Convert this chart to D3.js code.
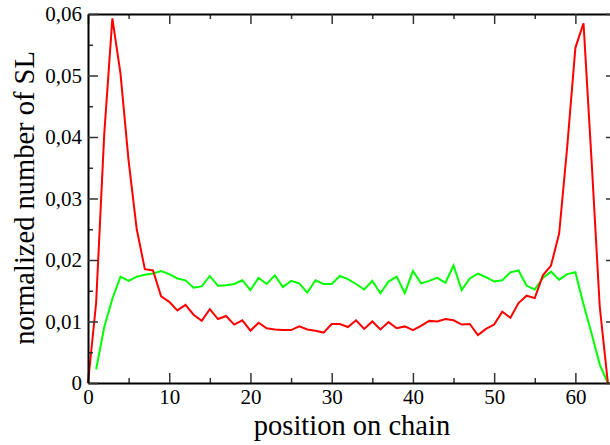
<!DOCTYPE html>
<html>
<head>
<meta charset="utf-8">
<script src="https://cdn.jsdelivr.net/npm/d3@7"></script>
<style>
  body { margin: 0; background: #fff; }
  svg { display: block; }
  .axis path { stroke: #000; stroke-width: 2; }
  .axis line { stroke: #333; stroke-width: 1.5; }
  .axis text { font-family: "Liberation Serif", serif; font-size: 21px; }
  .title { font-family: "Liberation Serif", serif; font-size: 28.5px; }
</style>
</head>
<body>
<div id="chartEl"></div>
<script>
// red: positions 0..64, green: positions 1..64
const redValues = [
  0, 0.013, 0.0405, 0.0593, 0.0503, 0.0361, 0.0250, 0.0185, 0.0183, 0.0141,
  0.0132, 0.0118, 0.0127, 0.0111, 0.0101, 0.0120, 0.0104, 0.0109, 0.0095, 0.0102,
  0.0085, 0.0098, 0.0089, 0.0087, 0.0086, 0.0086, 0.0092, 0.0087, 0.0085, 0.0082,
  0.0096, 0.0096, 0.0091, 0.0102, 0.0088, 0.0100, 0.0087, 0.0099, 0.0089, 0.0092,
  0.0086, 0.0093, 0.0101, 0.0100, 0.0104, 0.0102, 0.0095, 0.0096, 0.0078, 0.0088,
  0.0095, 0.0116, 0.0106, 0.0130, 0.0142, 0.0138, 0.0175, 0.0191, 0.0243, 0.0385,
  0.0545, 0.0585, 0.036, 0.0124, 0
];
const greenValues = [
  0.0022, 0.0091, 0.0137, 0.0173, 0.0166, 0.0173, 0.0176, 0.0178, 0.0182,
  0.0177, 0.0170, 0.0167, 0.0155, 0.0157, 0.0174, 0.0158, 0.0159, 0.0161, 0.0167,
  0.0151, 0.0171, 0.0161, 0.0175, 0.0156, 0.0166, 0.0162, 0.0147, 0.0167, 0.0161,
  0.0161, 0.0174, 0.0169, 0.0161, 0.0152, 0.0166, 0.0146, 0.0165, 0.0173, 0.0146,
  0.0182, 0.0162, 0.0166, 0.0171, 0.0163, 0.0191, 0.0151, 0.0170, 0.0178, 0.0172,
  0.0165, 0.0167, 0.0180, 0.0183, 0.0158, 0.0152, 0.0171, 0.0181, 0.0168, 0.0177,
  0.0180, 0.0128, 0.0080, 0.0030, 0
];
const xMajor = [0, 10, 20, 30, 40, 50, 60];
const xMinor = [5, 15, 25, 35, 45, 55, 65];
const yMajor = [0, 0.01, 0.02, 0.03, 0.04, 0.05, 0.06];
const yMinor = [0.005, 0.015, 0.025, 0.035, 0.045, 0.055];

const width = 610;
const height = 445;
const margin = {top: 14, right: -6, bottom: 62, left: 88};
const w = width - margin.left - margin.right;
const h = height - margin.top - margin.bottom;

const locale = d3.formatLocale({decimal: ',', thousands: '.', grouping: [3], currency: ['', '']});
const fmt = locale.format('.2f');
const yFormat = d => d === 0 ? '0' : fmt(d);

const x = d3.scaleLinear().domain([0, 65]).range([0, w]);
const y = d3.scaleLinear().domain([0, 0.06]).range([h, 0]);

const svg = d3.select('#chartEl').append('svg')
  .attr('width', width)
  .attr('height', height)
  .append('g')
  .attr('transform', 'translate(' + margin.left + ',' + margin.top + ')');

const line = d3.line()
  .x(d => x(d[0]))
  .y(d => y(d[1]));

const redPts = redValues.map((v, i) => [i, v]);
const greenPts = greenValues.map((v, i) => [i + 1, v]);

svg.append('path')
  .datum(greenPts)
  .attr('fill', 'none')
  .attr('stroke', '#00ff00')
  .attr('stroke-width', 2)
  .attr('d', line);

svg.append('path')
  .datum(redPts)
  .attr('fill', 'none')
  .attr('stroke', '#ff0000')
  .attr('stroke-width', 2)
  .attr('d', line);

// minor ticks
svg.append('g').attr('class', 'axis minor')
  .attr('transform', 'translate(0,' + h + ')')
  .call(d3.axisBottom(x).tickValues(xMinor).tickSize(-5).tickFormat(''));
svg.append('g').attr('class', 'axis minor')
  .call(d3.axisTop(x).tickValues(xMinor).tickSize(-5).tickFormat(''));
svg.append('g').attr('class', 'axis minor')
  .call(d3.axisLeft(y).tickValues(yMinor).tickSize(-5).tickFormat(''));
svg.append('g').attr('class', 'axis minor')
  .attr('transform', 'translate(' + w + ',0)')
  .call(d3.axisRight(y).tickValues(yMinor).tickSize(-5).tickFormat(''));

// major ticks
svg.append('g').attr('class', 'axis')
  .attr('transform', 'translate(0,' + h + ')')
  .call(d3.axisBottom(x).tickValues(xMajor).tickSize(-10).tickSizeOuter(0).tickPadding(6).tickFormat(d3.format('d')));
svg.append('g').attr('class', 'axis')
  .call(d3.axisTop(x).tickValues(xMajor).tickSize(-10).tickSizeOuter(0).tickFormat(''));
svg.append('g').attr('class', 'axis')
  .call(d3.axisLeft(y).tickValues(yMajor).tickSize(-10).tickSizeOuter(0).tickPadding(6).tickFormat(yFormat));
svg.append('g').attr('class', 'axis')
  .attr('transform', 'translate(' + w + ',0)')
  .call(d3.axisRight(y).tickValues(yMajor).tickSize(-10).tickSizeOuter(0).tickFormat(''));

svg.selectAll('.minor path').remove();
svg.selectAll('.axis text').attr('fill', '#000');

svg.append('text')
  .attr('class', 'title')
  .attr('x', 264)
  .attr('y', h + 52)
  .attr('text-anchor', 'middle')
  .text('position on chain');

svg.append('text')
  .attr('class', 'title')
  .attr('transform', 'translate(' + (34 - margin.left) + ',' + (198 - margin.top) + ') rotate(-90)')
  .attr('text-anchor', 'middle')
  .text('normalized number of SL');
</script>
</body>
</html>
